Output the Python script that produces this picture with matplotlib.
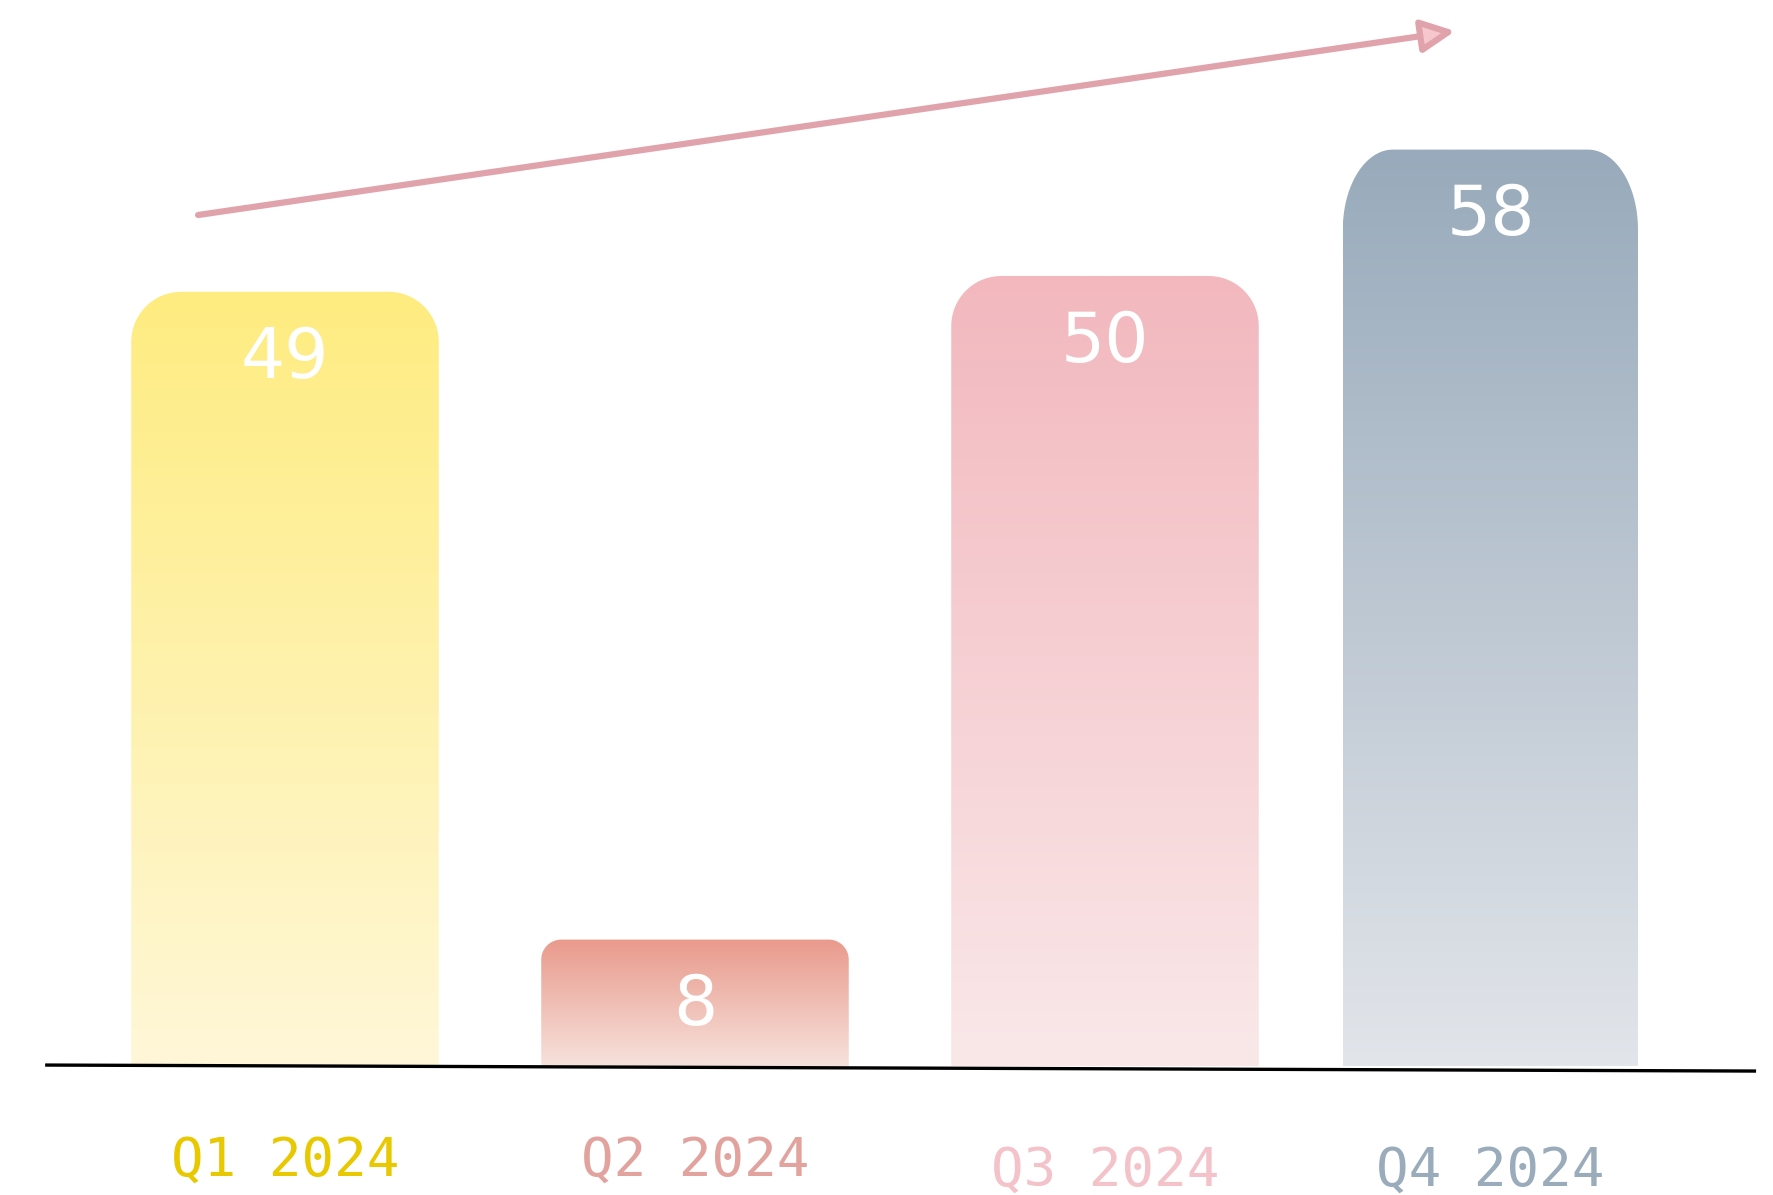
import numpy as np
import matplotlib.pyplot as plt
from matplotlib.patches import PathPatch
from matplotlib.path import Path
from matplotlib.colors import to_rgba

# data
quarters = ["Q1 2024", "Q2 2024", "Q3 2024", "Q4 2024"]
values = [49, 8, 50, 58]
top_colors = ["#ffec80", "#e99a8c", "#f2b8be", "#98aabb"]
bottom_colors = ["#fef7d8", "#f6e2dc", "#fae8e9", "#e2e5ea"]
label_colors = ["#e8c800", "#e2a39e", "#f4c2c9", "#9aabbb"]

W, H = 1773, 1195
fig = plt.figure(figsize=(W / 100, H / 100), dpi=100)
ax = fig.add_axes([0, 0, 1, 1])

# pixel -> data mapping
px_x = 410.0      # px per x unit
px_y = 15.8       # px per y unit
x0_px, base_px = 285.0, 1066.0
ax.set_xlim(-x0_px / px_x, (W - x0_px) / px_x)
ax.set_ylim(-(H - base_px) / px_y, base_px / px_y)
ax.axis("off")

xpos = [0, 1, 2, 2.94]
widths = [0.75, 0.75, 0.75, 0.72]
# corner radii in px (horizontal, vertical)
rad_x = [50, 20, 50, 50]
rad_y = [50, 20, 50, 80]


def top_rounded(x0, x1, y0, y1, rx, ry):
    # rectangle with rounded top corners only
    a = np.linspace(0, np.pi / 2, 24)
    right = np.c_[x1 - rx + rx * np.cos(a), y1 - ry + ry * np.sin(a)]
    left = np.c_[x0 + rx - rx * np.sin(a), y1 - ry + ry * np.cos(a)]
    pts = np.vstack([[x0, y0], [x1, y0], right, left, [x0, y0]])
    return Path(pts, closed=True)


for i, v in enumerate(values):
    x, w = xpos[i], widths[i]
    patch = PathPatch(top_rounded(x - w / 2, x + w / 2, 0, v,
                                  rad_x[i] / px_x, rad_y[i] / px_y),
                      facecolor="none", edgecolor="none")
    ax.add_patch(patch)
    t = np.linspace(0, 1, 256)[:, None]
    c0 = np.array(to_rgba(bottom_colors[i]))
    c1 = np.array(to_rgba(top_colors[i]))
    grad = (c0 * (1 - t) + c1 * t)[:, None, :]
    im = ax.imshow(grad, extent=[x - w / 2, x + w / 2, 0, v], origin="lower",
                   aspect="auto", interpolation="bilinear", zorder=2)
    im.set_clip_path(patch)
    ax.text(x, v - 4.2, str(v), ha="center", va="center", color="white",
            fontsize=50, zorder=4)

# baseline
ax.plot([-0.585, 3.588], [0.06, -0.32], color="black", lw=2.4, zorder=3,
        solid_capstyle="butt")

# category labels
label_y = [-6.0, -6.0, -6.6, -6.6]
for i, q in enumerate(quarters):
    ax.text(xpos[i], label_y[i], q, ha="center", va="center",
            color=label_colors[i], fontsize=39, family="DejaVu Sans Mono")

# trend arrow
ax.annotate("", xy=(2.854, 65.5), xytext=(-0.212, 53.86),
            arrowprops=dict(arrowstyle="-|>,head_length=0.45,head_width=0.22",
                            mutation_scale=45, lw=4.5,
                            edgecolor="#e0a3ac", facecolor="#f6c8cd",
                            shrinkA=0, shrinkB=0), zorder=5)

plt.savefig("out.png", dpi=100)
